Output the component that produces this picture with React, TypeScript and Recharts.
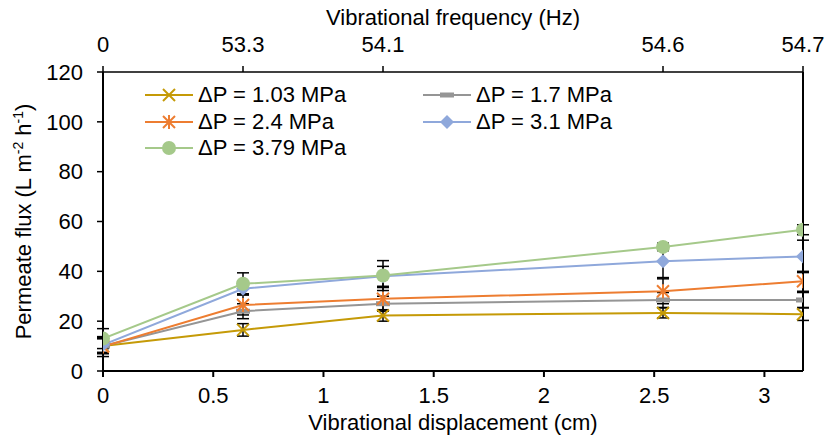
import React from 'react';
import {
  ComposedChart,
  Line,
  XAxis,
  YAxis,
  ErrorBar,
} from 'recharts';

const displacement = [0, 0.635, 1.27, 2.54, 3.175];
const frequencyLabels = ['0', '53.3', '54.1', '54.6', '54.7'];
const bottomTicks = [0, 0.5, 1, 1.5, 2, 2.5, 3];
const yTicks = [0, 20, 40, 60, 80, 100, 120];

const flux103 = [10, 16.5, 22.3, 23.3, 22.8];
const flux17 = [10, 24, 27, 28.5, 28.5];
const flux24 = [9.8, 26.5, 29, 32, 36];
const flux31 = [10.5, 33, 38, 44, 46];
const flux379 = [13, 35, 38.3, 49.8, 56.7];

const err103 = [3, 2.5, 2.3, 2, 2.5];
const err17 = [3, 3, 3, 3, 3];
const err24 = [4, 4, 4.5, 5, 4];
const err31 = [3, 2, 4, 6.5, 6.5];
const err379 = [4, 4.4, 6, 1.5, 2];

const series = [
  { key: 'p103', name: 'ΔP = 1.03 MPa', color: '#C59A07', values: flux103, errs: err103, marker: 'x' },
  { key: 'p17', name: 'ΔP = 1.7 MPa', color: '#959595', values: flux17, errs: err17, marker: 'dash' },
  { key: 'p24', name: 'ΔP = 2.4 MPa', color: '#ED7D31', values: flux24, errs: err24, marker: 'star' },
  { key: 'p31', name: 'ΔP = 3.1 MPa', color: '#8FA8DB', values: flux31, errs: err31, marker: 'diamond' },
  { key: 'p379', name: 'ΔP = 3.79 MPa', color: '#A5C98A', values: flux379, errs: err379, marker: 'circle' },
];

const data = displacement.map((d, i) => {
  const row: any = { d };
  series.forEach((s) => {
    row[s.key] = s.values[i];
    row[s.key + 'Err'] = s.errs[i];
  });
  return row;
});

const font = 'Liberation Sans, Arial, sans-serif';
const fs = 22;

const Marker = ({ type, color, cx, cy }: { type: string; color: string; cx: number; cy: number }) => {
  if (type === 'x') {
    return (
      <g stroke={color} strokeWidth={2}>
        <line x1={cx - 6} y1={cy - 6} x2={cx + 6} y2={cy + 6} />
        <line x1={cx - 6} y1={cy + 6} x2={cx + 6} y2={cy - 6} />
      </g>
    );
  }
  if (type === 'star') {
    return (
      <g stroke={color} strokeWidth={2}>
        <line x1={cx - 6} y1={cy - 6} x2={cx + 6} y2={cy + 6} />
        <line x1={cx - 6} y1={cy + 6} x2={cx + 6} y2={cy - 6} />
        <line x1={cx} y1={cy - 7} x2={cx} y2={cy + 7} />
      </g>
    );
  }
  if (type === 'dash') {
    return <rect x={cx - 7} y={cy - 2.5} width={14} height={5} fill={color} />;
  }
  if (type === 'diamond') {
    return <path d={`M${cx},${cy - 7}L${cx + 7},${cy}L${cx},${cy + 7}L${cx - 7},${cy}Z`} fill={color} />;
  }
  return <circle cx={cx} cy={cy} r={7} fill={color} />;
};

const LegendBox = () => (
  <div
    style={{
      position: 'absolute',
      left: 145,
      top: 82,
      display: 'grid',
      gridTemplateColumns: '278px 260px',
      fontFamily: font,
      fontSize: fs,
      color: '#000',
    }}
  >
    {series.map((s) => (
      <div key={s.key} style={{ display: 'flex', alignItems: 'center', height: 26.5 }}>
        <svg width={48} height={20} style={{ marginRight: 5 }}>
          <line x1={0} y1={10} x2={48} y2={10} stroke={s.color} strokeWidth={2} />
          <Marker type={s.marker} color={s.color} cx={24} cy={10} />
        </svg>
        <span>{s.name}</span>
      </div>
    ))}
  </div>
);

const YLabel = (props: any) => {
  const vb = props.viewBox;
  const cx = 24;
  const cy = vb.y + vb.height / 2;
  return (
    <text
      x={cx}
      y={cy}
      dy={7}
      transform={`rotate(-90, ${cx}, ${cy})`}
      textAnchor="middle"
      fontSize={fs}
      fontFamily={font}
      fill="#000"
    >
      Permeate flux (L m
      <tspan dy={-8} fontSize={14}>-2</tspan>
      <tspan dy={8}> h</tspan>
      <tspan dy={-8} fontSize={14}>-1</tspan>
      <tspan dy={8}>)</tspan>
    </text>
  );
};

export default function App() {
  return (
    <div style={{ position: 'absolute', left: 0, top: 0, width: 825, height: 436, background: '#fff' }}>
      <ComposedChart
        width={825}
        height={436}
        data={data}
        margin={{ top: 42, right: 21, bottom: 35, left: 43 }}
      >
        <XAxis
          xAxisId="bottom"
          dataKey="d"
          type="number"
          domain={[0, 3.175]}
          ticks={bottomTicks}
          allowDataOverflow
          height={30}
          tickSize={6}
          tickMargin={10}
          tick={{ fontSize: fs, fill: '#000', fontFamily: font }}
          axisLine={{ stroke: '#000', strokeWidth: 2 }}
          tickLine={{ stroke: '#000', strokeWidth: 2 }}
          label={{
            value: 'Vibrational displacement (cm)',
            position: 'insideBottom',
            offset: -29,
            fontSize: fs,
            fill: '#000',
            fontFamily: font,
          }}
        />
        <XAxis
          xAxisId="top"
          orientation="top"
          dataKey="d"
          type="number"
          domain={[0, 3.175]}
          ticks={displacement}
          tickFormatter={(v: number) => frequencyLabels[displacement.indexOf(v)] ?? ''}
          height={30}
          tickSize={6}
          tickMargin={14}
          tick={{ fontSize: fs, fill: '#000', fontFamily: font }}
          axisLine={{ stroke: '#000', strokeWidth: 1.5 }}
          tickLine={{ stroke: '#000', strokeWidth: 1.5 }}
          label={{
            value: 'Vibrational frequency (Hz)',
            position: 'insideTop',
            offset: -33,
            fontSize: fs,
            fill: '#000',
            fontFamily: font,
          }}
        />
        <YAxis
          yAxisId="left"
          domain={[0, 120]}
          ticks={yTicks}
          width={60}
          tickSize={6}
          tickMargin={14}
          tick={{ fontSize: fs, fill: '#000', fontFamily: font }}
          axisLine={{ stroke: '#000', strokeWidth: 2 }}
          tickLine={{ stroke: '#000', strokeWidth: 1.5 }}
          label={<YLabel />}
        />
        <YAxis
          yAxisId="right"
          orientation="right"
          domain={[0, 120]}
          width={1}
          tick={false}
          tickLine={false}
          axisLine={{ stroke: '#000', strokeWidth: 2 }}
        />
        {series.map((s) => (
          <Line
            key={s.key}
            xAxisId="bottom"
            yAxisId="left"
            dataKey={s.key}
            name={s.name}
            stroke={s.color}
            strokeWidth={2}
            isAnimationActive={false}
            dot={(p: any) => <Marker key={p.index} type={s.marker} color={s.color} cx={p.cx} cy={p.cy} />}
            activeDot={false}
          >
            <ErrorBar dataKey={s.key + 'Err'} direction="y" stroke="#000" strokeWidth={1.5} width={6} />
          </Line>
        ))}
      </ComposedChart>
      <LegendBox />
    </div>
  );
}
